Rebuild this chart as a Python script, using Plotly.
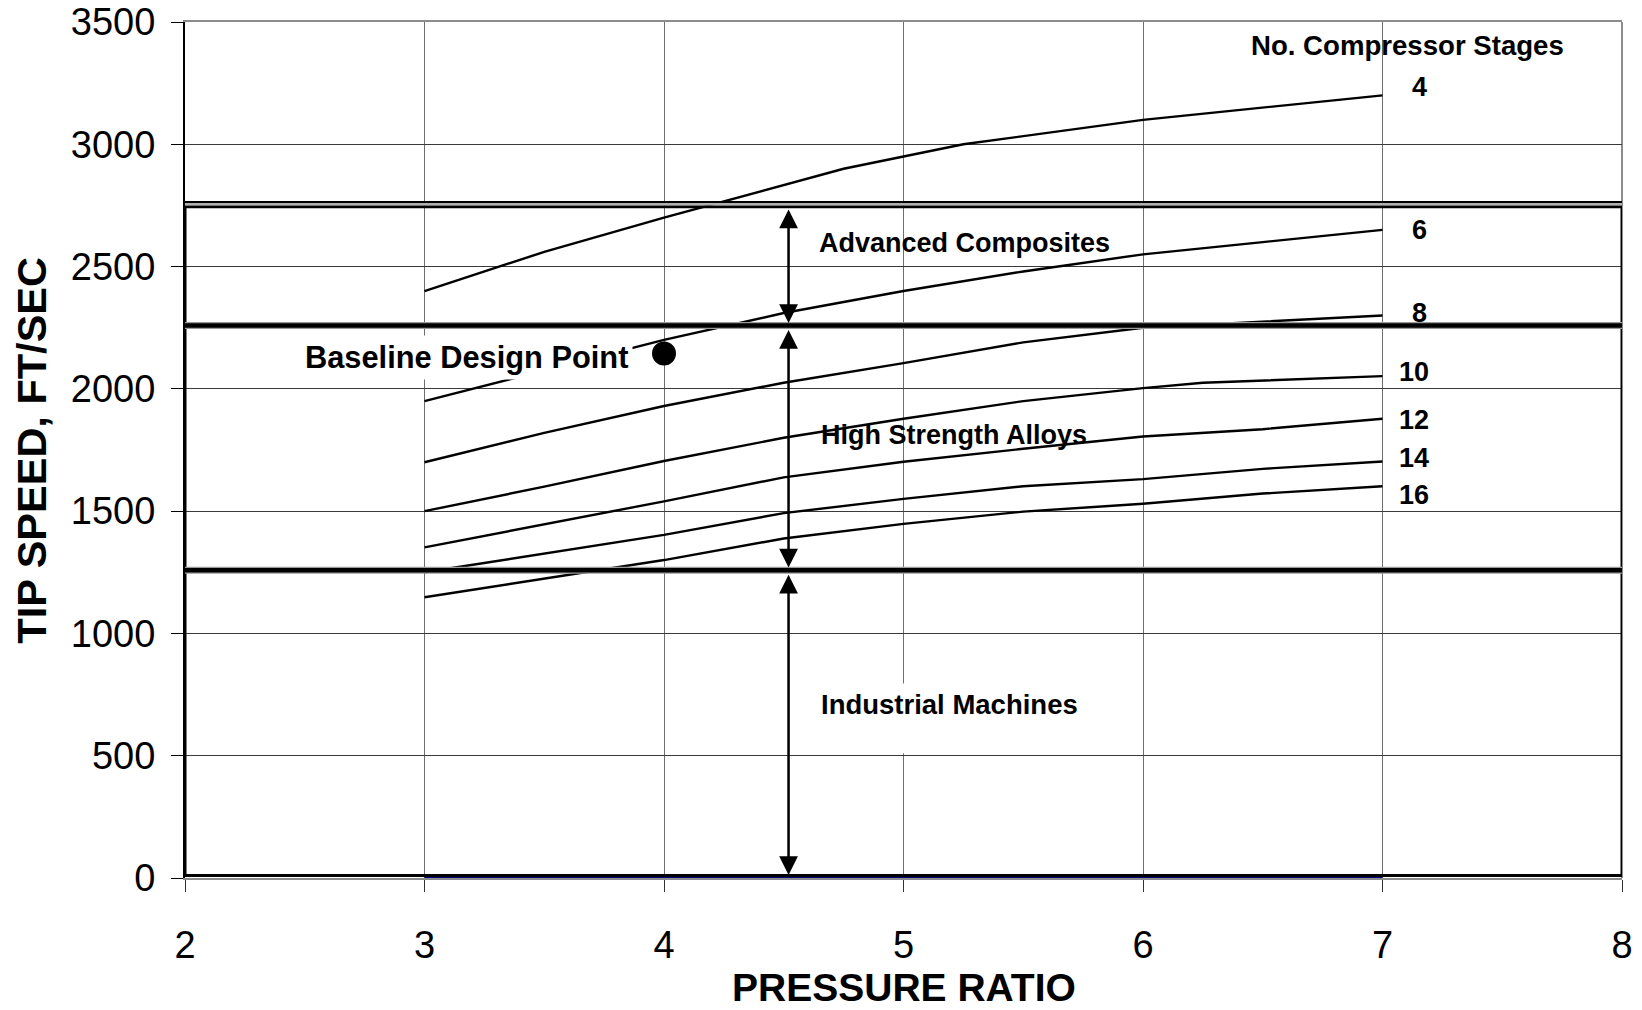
import plotly.graph_objects as go

# ---------------- data ----------------
x_ticks = [2, 3, 4, 5, 6, 7, 8]
y_ticks = [0, 500, 1000, 1500, 2000, 2500, 3000, 3500]

stage_names = ["4", "6", "8", "10", "12", "14", "16"]

x_4 = [3, 3.5, 4, 4.75, 5, 5.25, 6, 7]
y_4 = [2400, 2560, 2700, 2900, 2950, 3000, 3100, 3200]

x_6 = [3, 3.5, 4, 4.5, 5, 5.5, 6, 6.5, 7]
y_6 = [1950, 2075, 2200, 2310, 2400, 2480, 2550, 2600, 2650]

x_8 = [3, 3.5, 4, 4.5, 5, 5.5, 6, 6.5, 7]
y_8 = [1700, 1820, 1930, 2025, 2105, 2190, 2250, 2275, 2300]

x_10 = [3, 3.5, 4, 4.5, 5, 5.5, 6, 6.25, 7]
y_10 = [1500, 1600, 1705, 1800, 1878, 1950, 2003, 2025, 2052]

x_12 = [3, 3.5, 4, 4.5, 5, 5.5, 6, 6.5, 7]
y_12 = [1352, 1445, 1540, 1638, 1702, 1755, 1805, 1835, 1878]

x_14 = [3, 3.5, 4, 4.5, 5, 5.5, 6, 6.5, 7]
y_14 = [1250, 1325, 1403, 1492, 1550, 1602, 1631, 1673, 1703]

x_16 = [3, 3.5, 4, 4.5, 5, 5.5, 6, 6.5, 7]
y_16 = [1148, 1225, 1300, 1388, 1448, 1498, 1530, 1572, 1602]

zero_x = [3, 4, 5, 6, 7]
zero_y = [0, 0, 0, 0, 0]

baseline_x = [4.0]
baseline_y = [2145]

# material limit bands (ft/sec)
band_bottom = 10
band_industrial_top = 1258
band_alloy_top = 2259
band_composite_top = 2745
band_composite_line = 2764
arrow_pr = 4.52

# ---------------- figure ----------------
FONT = "Liberation Sans, Arial, sans-serif"

fig = go.Figure()

curves = [(x_4, y_4), (x_6, y_6), (x_8, y_8), (x_10, y_10),
          (x_12, y_12), (x_14, y_14), (x_16, y_16)]
for name, (xs, ys) in zip(stage_names, curves):
    fig.add_trace(go.Scatter(x=xs, y=ys, mode="lines", name=name,
                             line=dict(color="black", width=2.4),
                             showlegend=False, hoverinfo="x+y"))

fig.add_trace(go.Scatter(x=zero_x, y=zero_y, mode="lines",
                         line=dict(color="#000080", width=2.5),
                         showlegend=False))

fig.add_trace(go.Scatter(x=baseline_x, y=baseline_y, mode="markers",
                         marker=dict(color="black", size=24),
                         showlegend=False))

shapes = []
# outer material box
shapes.append(dict(type="rect", xref="x", yref="y", x0=2, x1=8,
                   y0=band_bottom, y1=band_composite_top,
                   line=dict(color="black", width=3), layer="above"))
# double line at top of composites band
shapes.append(dict(type="line", xref="x", yref="y", x0=2, x1=8,
                   y0=(band_composite_top + band_composite_line) / 2,
                   y1=(band_composite_top + band_composite_line) / 2,
                   line=dict(color="#b0b0b0", width=2.5), layer="above"))
shapes.append(dict(type="line", xref="x", yref="y", x0=2, x1=8,
                   y0=band_composite_line, y1=band_composite_line,
                   line=dict(color="black", width=2), layer="above"))
# thick band separators
for yv in [band_alloy_top, band_industrial_top]:
    shapes.append(dict(type="line", xref="x", yref="y", x0=2, x1=8,
                       y0=yv, y1=yv,
                       line=dict(color="#9a9a9a", width=7), layer="above"))
    shapes.append(dict(type="line", xref="x", yref="y", x0=2, x1=8,
                       y0=yv, y1=yv,
                       line=dict(color="black", width=4.5), layer="above"))
# right plot-area border (gray)
shapes.append(dict(type="line", xref="paper", yref="paper", x0=1, x1=1,
                   y0=0, y1=1, line=dict(color="#8c8c8c", width=2),
                   layer="below"))
# white text box behind "Industrial Machines"
shapes.append(dict(type="rect", xref="x", yref="y", x0=4.6, x1=5.6,
                   y0=510, y1=795, fillcolor="white",
                   line=dict(width=0), layer="above"))

annotations = []
# arrows
for y_top, y_bot in [(band_composite_top - 6, band_alloy_top + 10),
                     (band_alloy_top - 12, band_industrial_top + 12),
                     (band_industrial_top - 12, band_bottom + 2)]:
    annotations.append(dict(x=arrow_pr, y=y_bot, ax=arrow_pr, ay=y_top,
                            xref="x", yref="y", axref="x", ayref="y",
                            text="", showarrow=True, arrowhead=2,
                            arrowside="end+start", arrowsize=1.5,
                            arrowwidth=2.5, arrowcolor="black",
                            standoff=0, startstandoff=0))

bold = dict(family=FONT, size=27, color="black", weight="bold")

annotations.append(dict(x=7.105, y=3403, xref="x", yref="y",
                        text="No. Compressor Stages", showarrow=False,
                        font=dict(family=FONT, size=27.6, color="black",
                                  weight="bold"),
                        xanchor="center", yanchor="middle"))
label_pos = [(7.155, 3235), (7.155, 2651), (7.155, 2310), (7.13, 2068),
             (7.13, 1871), (7.13, 1717), (7.13, 1567)]
for name, (lx, ly) in zip(stage_names, label_pos):
    annotations.append(dict(x=lx, y=ly, xref="x", yref="y", text=name,
                            showarrow=False, font=bold,
                            xanchor="center", yanchor="middle"))

annotations.append(dict(x=4.637, y=2598, xref="x", yref="y",
                        text="Advanced Composites", showarrow=False,
                        font=bold, xanchor="left", yanchor="middle"))
annotations.append(dict(x=4.648, y=1813, xref="x", yref="y",
                        text="High Strength Alloys", showarrow=False,
                        font=bold, xanchor="left", yanchor="middle"))
annotations.append(dict(x=4.648, y=708, xref="x", yref="y",
                        text="Industrial Machines", showarrow=False,
                        font=dict(family=FONT, size=27.5, color="black",
                                  weight="bold"),
                        xanchor="left", yanchor="middle"))
annotations.append(dict(x=3.176, y=2128, xref="x", yref="y",
                        text="Baseline Design Point", showarrow=False,
                        font=dict(family=FONT, size=30.8, color="black",
                                  weight="bold"),
                        bgcolor="white", borderpad=4,
                        xanchor="center", yanchor="middle"))

# axis titles
annotations.append(dict(x=-0.1074, y=0.5, xref="paper", yref="paper",
                        text="TIP SPEED, FT/SEC", textangle=-90,
                        showarrow=False,
                        font=dict(family=FONT, size=41.5, color="black",
                                  weight="bold"),
                        xanchor="center", yanchor="middle"))
annotations.append(dict(x=0.5, y=-0.128, xref="paper", yref="paper",
                        text="PRESSURE RATIO", showarrow=False,
                        font=dict(family=FONT, size=39, color="black",
                                  weight="bold"),
                        xanchor="center", yanchor="middle"))

fig.update_layout(
    width=1642, height=1010,
    margin=dict(l=185, r=20, t=22, b=132, pad=0, autoexpand=False),
    paper_bgcolor="white", plot_bgcolor="white",
    showlegend=False,
    shapes=shapes, annotations=annotations,
    font=dict(family=FONT, color="black"),
)

fig.update_xaxes(range=[2, 8], tickvals=x_ticks,
                 ticktext=[str(v) for v in x_ticks],
                 automargin=False,
                 showgrid=True, gridcolor="#6e6e6e", gridwidth=1,
                 zeroline=False, showline=True, linecolor="#8c8c8c",
                 linewidth=2, mirror=True,
                 ticks="outside", ticklen=12, tickcolor="#333333",
                 tickwidth=1, ticklabelstandoff=20,
                 tickfont=dict(family=FONT, size=38, color="black"))
fig.update_yaxes(range=[0, 3500], tickvals=y_ticks,
                 ticktext=[str(v) for v in y_ticks],
                 automargin=False,
                 showgrid=True, gridcolor="#3a3a3a", gridwidth=1,
                 zeroline=False, showline=True, linecolor="black",
                 linewidth=2, mirror=False,
                 ticks="outside", ticklen=12, tickcolor="black",
                 tickwidth=1, ticklabelstandoff=8,
                 tickfont=dict(family=FONT, size=38, color="black"))

fig.write_html(
    "out.html",
    config={"displayModeBar": False},
    post_script="document.body.style.margin='0px';"
                "document.body.style.overflow='hidden';",
)
